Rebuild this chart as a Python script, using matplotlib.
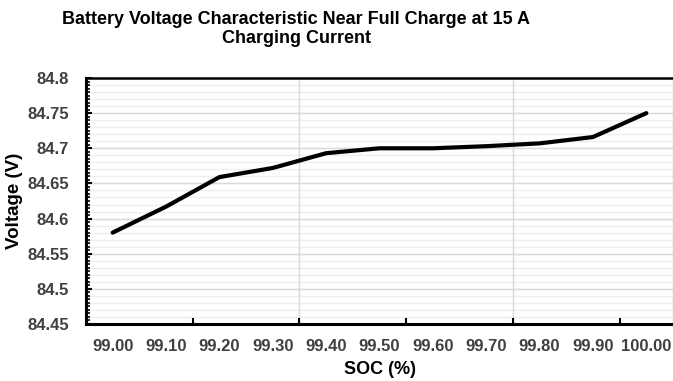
import numpy as np
import matplotlib
matplotlib.use("Agg")
import matplotlib.pyplot as plt
from matplotlib.ticker import MultipleLocator, FixedLocator

# data
soc_labels = ["99.00", "99.10", "99.20", "99.30", "99.40", "99.50",
              "99.60", "99.70", "99.80", "99.90", "100.00"]
voltage = [84.580, 84.617, 84.659, 84.672, 84.693, 84.700,
           84.700, 84.703, 84.707, 84.716, 84.750]
y_labels = ["84.45", "84.5", "84.55", "84.6", "84.65", "84.7", "84.75", "84.8"]

plt.rcParams['font.family'] = ['Liberation Sans', 'DejaVu Sans']
plt.rcParams['font.weight'] = 'bold'

fig = plt.figure(figsize=(6.73, 3.81), dpi=100)
ax = fig.add_axes([86 / 673, 1 - 324 / 381, 587 / 673, (324 - 78) / 381])

x = np.arange(len(soc_labels))
ax.plot(x, voltage, color='black', lw=3.0, solid_capstyle='round', zorder=5)

ax.set_xlim(-0.5, len(soc_labels) - 0.5)
ax.set_ylim(84.45, 84.8)

# x axis: category labels, tick marks between every second category
ax.set_xticks(x)
ax.set_xticklabels(soc_labels)
ax.xaxis.set_minor_locator(FixedLocator([1.5, 3.5, 5.5, 7.5, 9.5]))
ax.tick_params(axis='x', which='major', length=0, pad=11)
ax.tick_params(axis='x', which='minor', direction='in', length=4, width=1.5)
for xv in [3.5, 7.5]:
    ax.axvline(xv, color='#d9d9d9', lw=1.0, zorder=1)

# y axis
ax.set_yticks(np.arange(84.45, 84.801, 0.05))
ax.set_yticklabels(y_labels)
ax.yaxis.set_minor_locator(MultipleLocator(0.005))
ax.tick_params(axis='y', which='major', direction='in', length=4, width=1.5, pad=12)
ax.tick_params(axis='y', which='minor', direction='in', length=3, width=1.2)
ax.tick_params(labelsize=12, labelcolor='#404040')

for yv in np.arange(84.46, 84.8, 0.01):
    ax.axhline(yv, color='#efefef', lw=1.0, zorder=0)
for yv in np.arange(84.5, 84.8, 0.05):
    ax.axhline(yv, color='#d9d9d9', lw=1.0, zorder=1)

for side in ['left', 'bottom']:
    ax.spines[side].set_linewidth(2.2)
    ax.spines[side].set_color('black')
ax.spines['top'].set_linewidth(1.8)
ax.spines['right'].set_color('#d0d0d0')
ax.spines['right'].set_linewidth(1.0)

ax.set_xlabel('SOC (%)', fontsize=13, fontweight='bold', labelpad=5)
ax.set_ylabel('Voltage (V)', fontsize=13.5, fontweight='bold', va='center')
ax.yaxis.set_label_coords((15 - 86) / 587, 0.5)

fig.text(296 / 673, 1 - 29 / 381,
         'Battery Voltage Characteristic Near Full Charge at 15 A\nCharging Current',
         ha='center', va='center', fontsize=13, fontweight='bold',
         linespacing=1.15)

plt.savefig('out.png', dpi=100)
